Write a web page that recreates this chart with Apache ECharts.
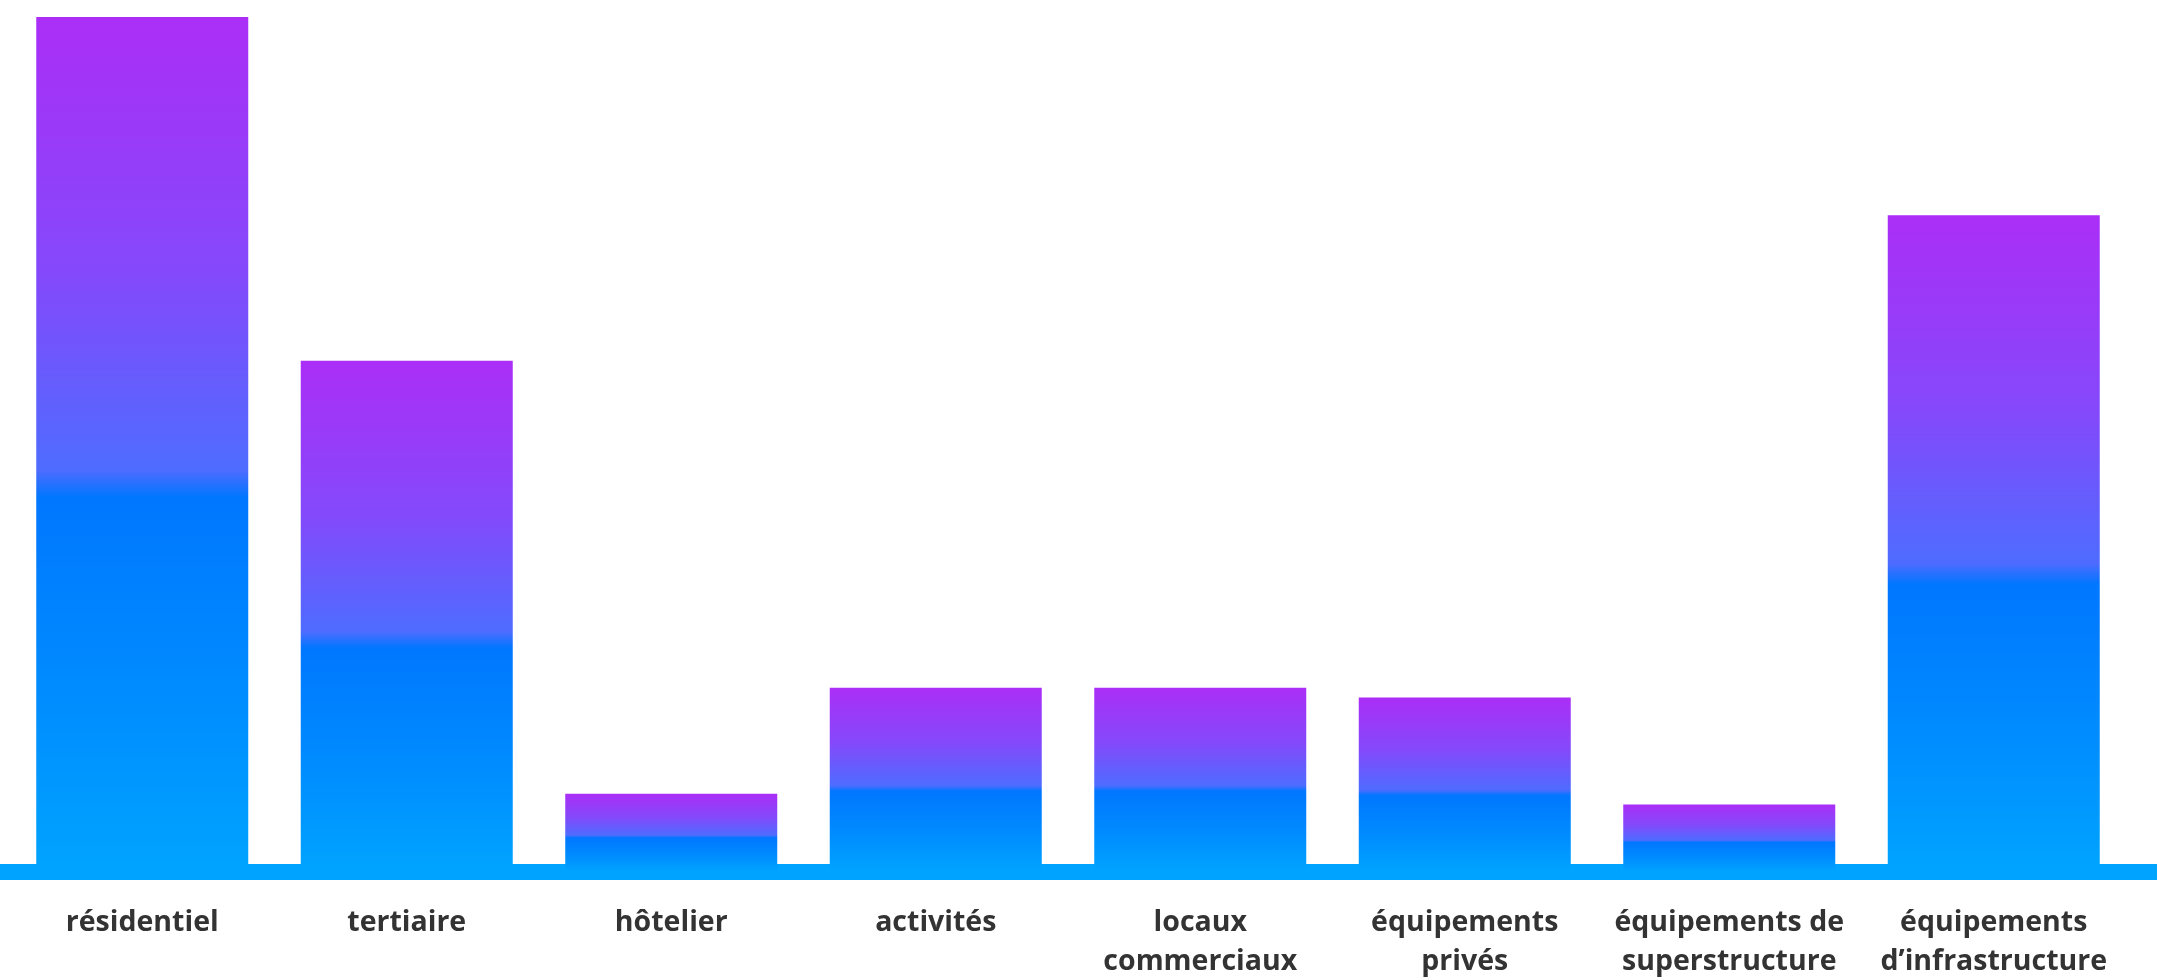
<!DOCTYPE html>
<html lang="fr">

<head>
    <meta charset="UTF-8">
    <meta name="viewport" content="width=device-width, initial-scale=1.0">
    <title>Répartition par programme</title>
    <script src="https://cdn.jsdelivr.net/npm/echarts@6/dist/echarts.min.js"></script>
</head>

<body style="margin: 0; background: #fff">
    <div id="container" style="width: 2157px; height: 978px"></div>
    <script type="text/javascript">
        // data (relative heights, largest = 100)
        var categories = ['résidentiel', 'tertiaire', 'hôtelier', 'activités', 'locaux\ncommerciaux',
            'équipements\nprivés', 'équipements de\nsuperstructure', 'équipements\nd’infrastructure'];
        var values = [100, 59.8, 9.15, 21.55, 21.55, 20.4, 7.9, 76.8];

        var dom = document.getElementById('container');
        var myChart = echarts.init(dom, null, { renderer: 'canvas' });

        var barColor = new echarts.graphic.LinearGradient(0, 0, 0, 1, [
            { offset: 0, color: '#ab2ef7' },
            { offset: 0.3, color: '#8449fa' },
            { offset: 0.53, color: '#4e6cff' },
            { offset: 0.562, color: '#0077ff' },
            { offset: 0.8, color: '#008dff' },
            { offset: 1, color: '#00a4ff' }
        ]);

        var option = {
            animation: false,
            grid: [
                { left: 10, right: 31, top: 17, bottom: 106, outerBoundsMode: 'none' },
                { left: 0, right: 0, top: 17, bottom: 106, outerBoundsMode: 'none' }
            ],
            xAxis: [
                {
                    gridIndex: 0, type: 'category',
                    data: categories,
                    axisLine: { show: false },
                    axisTick: { show: false },
                    axisLabel: {
                        interval: 0,
                        margin: 31,
                        color: '#333333',
                        fontFamily: 'Open Sans',
                        fontWeight: 'bold',
                        fontSize: 28.5,
                        lineHeight: 39
                    }
                },
                {
                    gridIndex: 1, type: 'category',
                    data: [''],
                    axisLine: { show: true, lineStyle: { color: '#00a3ff', width: 16 } },
                    axisTick: { show: false },
                    axisLabel: { show: false }
                }
            ],
            yAxis: [
                { gridIndex: 0, type: 'value', min: 0, max: 100, show: false },
                { gridIndex: 1, type: 'value', min: 0, max: 100, show: false }
            ],
            series: [
                {
                    type: 'bar',
                    xAxisIndex: 0,
                    yAxisIndex: 0,
                    barWidth: 212,
                    z: 3,
                    itemStyle: { color: barColor },
                    data: values
                }
            ]
        };

        myChart.setOption(option);
        window.addEventListener('resize', myChart.resize);
    </script>
</body>

</html>
